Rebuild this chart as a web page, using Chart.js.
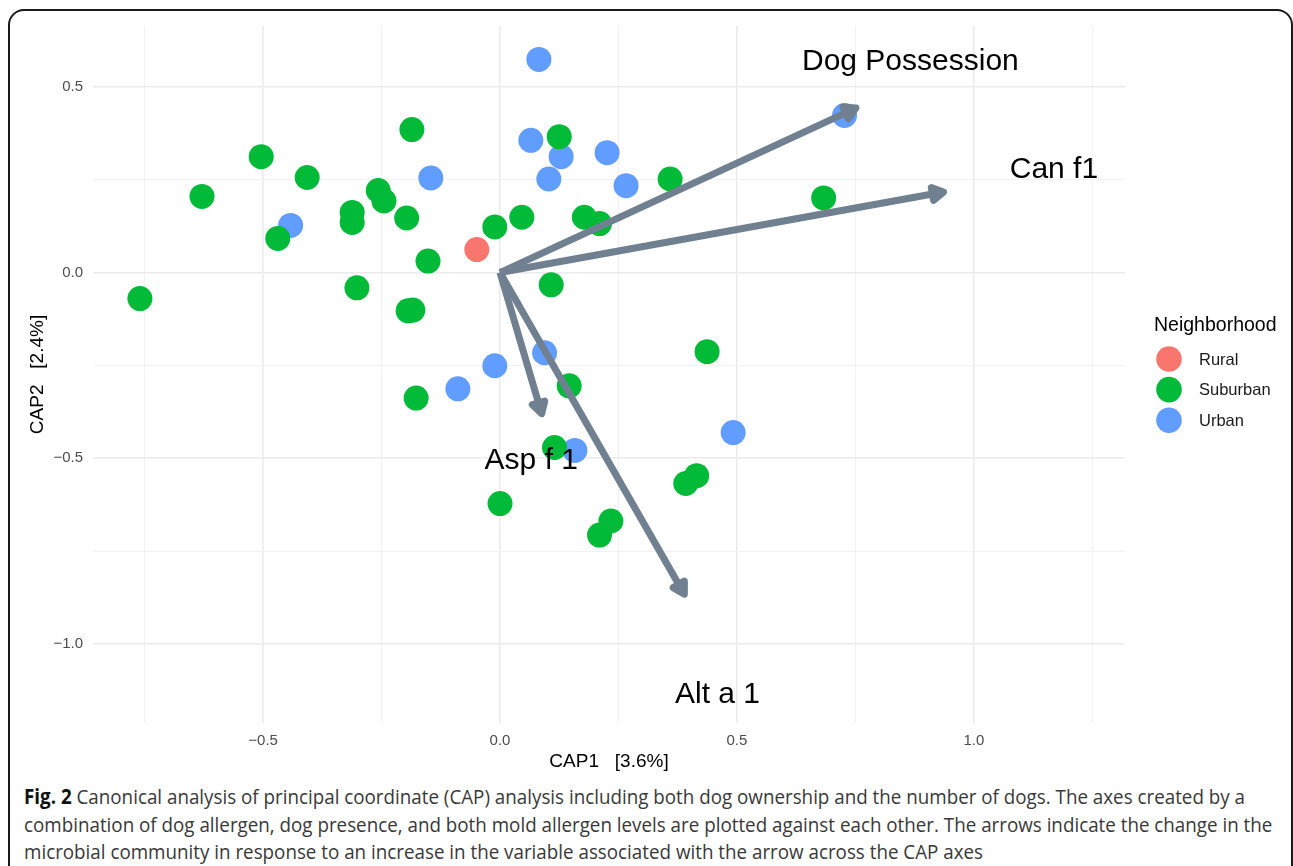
<!DOCTYPE html>
<html>
<head>
<meta charset="utf-8">
<title>CAP ordination</title>
<script src="https://cdn.jsdelivr.net/npm/chart.js@4.4.1/dist/chart.umd.min.js"></script>
<style>
    html, body { margin: 0; padding: 0; background: #fff; }
    body { width: 1293px; height: 866px; overflow: hidden; position: relative; }
    #frame {
        position: absolute; left: 8px; top: 9px; width: 1285px; height: 900px;
        border: 2px solid #1a1a1a; border-radius: 16px; box-sizing: border-box;
    }
    #chart { position: absolute; left: 0; top: 0; }
    .caption {
        position: absolute; left: 24px; height: 28px; line-height: 28px;
        font-family: "Open Sans", "Noto Sans", sans-serif; font-size: 20.5px;
        color: #383838; white-space: nowrap; transform-origin: 0 50%;
    }
    .caption b { color: #111; }
</style>
</head>
<body>
<div id="frame"></div>
<canvas id="chart" width="1293" height="780"></canvas>
<div class="caption" style="top:782px"><b>Fig. 2</b> Canonical analysis of principal coordinate (CAP) analysis including both dog ownership and the number of dogs. The axes created by a</div>
<div class="caption" style="top:810px">combination of dog allergen, dog presence, and both mold allergen levels are plotted against each other. The arrows indicate the change in the</div>
<div class="caption" style="top:837px">microbial community in response to an increase in the variable associated with the arrow across the CAP axes</div>

<script>
// sample scores
const ruralX = [-0.049];
const ruralY = [0.062];

const suburbanX = [-0.760, -0.629, -0.504, -0.407, -0.469, -0.312, -0.312, -0.257, -0.245, -0.197,
    -0.186, -0.152, -0.302, -0.194, -0.184, -0.177, 0.125, 0.359, -0.011, 0.046,
    0.178, 0.210, 0.108, 0.683, 0.146, 0.437, 0.115, 0.000, 0.234, 0.210,
    0.415, 0.392];
const suburbanY = [-0.070, 0.205, 0.312, 0.256, 0.092, 0.162, 0.135, 0.221, 0.193, 0.147,
    0.385, 0.031, -0.041, -0.103, -0.101, -0.338, 0.366, 0.252, 0.123, 0.149,
    0.149, 0.132, -0.033, 0.201, -0.305, -0.213, -0.471, -0.622, -0.669, -0.707,
    -0.547, -0.568];

const urbanX = [-0.442, -0.146, 0.082, 0.065, 0.129, 0.103, 0.226, 0.266, 0.727, 0.094,
    -0.011, -0.089, 0.158, 0.492];
const urbanY = [0.127, 0.255, 0.574, 0.356, 0.312, 0.252, 0.323, 0.234, 0.423, -0.216,
    -0.251, -0.313, -0.479, -0.431];

// biplot arrows and their labels
const arrowNames = ['Dog Possession', 'Can f1', 'Asp f 1', 'Alt a 1'];
const arrowX = [0.751, 0.936, 0.088, 0.389];
const arrowY = [0.443, 0.217, -0.380, -0.866];
const arrowLabelX = [0.866, 1.169, 0.066, 0.459];
const arrowLabelY = [0.568, 0.276, -0.507, -1.137];

const xTicks = [-0.75, -0.5, -0.25, 0, 0.25, 0.5, 0.75, 1.0, 1.25];
const xMajor = [-0.5, 0, 0.5, 1.0];
const yTicks = [-1.0, -0.75, -0.5, -0.25, 0, 0.25, 0.5];
const yMajor = [-1.0, -0.5, 0, 0.5];

const groupNames = ['Rural', 'Suburban', 'Urban'];
const groupColors = ['#F8766D', '#00BA38', '#619CFF'];
const arrowColor = '#708090';
const plotFont = '"Liberation Sans", Arial, sans-serif';

const toPoints = (xs, ys) => xs.map((x, i) => ({x: x, y: ys[i]}));
const fmt = v => (v < 0 ? '\u2212' : '') + Math.abs(v).toFixed(1);

const arrowsPlugin = {
    id: 'arrows',
    afterDatasetsDraw(chart) {
        const ctx = chart.ctx;
        const xs = chart.scales.x;
        const ys = chart.scales.y;
        const x0 = xs.getPixelForValue(0);
        const y0 = ys.getPixelForValue(0);
        ctx.save();
        for (let i = 0; i < arrowNames.length; i++) {
            const tx = xs.getPixelForValue(arrowX[i]);
            const ty = ys.getPixelForValue(arrowY[i]);
            const ang = Math.atan2(ty - y0, tx - x0);
            const len = 13, spread = Math.PI / 6;
            ctx.beginPath();
            ctx.moveTo(tx, ty);
            ctx.lineTo(tx - len * Math.cos(ang - spread), ty - len * Math.sin(ang - spread));
            ctx.lineTo(tx - len * Math.cos(ang + spread), ty - len * Math.sin(ang + spread));
            ctx.closePath();
            ctx.fillStyle = arrowColor;
            ctx.strokeStyle = arrowColor;
            ctx.lineWidth = 7;
            ctx.lineJoin = 'round';
            ctx.fill();
            ctx.stroke();
        }
        ctx.fillStyle = '#000';
        ctx.font = '30px ' + plotFont;
        ctx.textAlign = 'center';
        ctx.textBaseline = 'middle';
        for (let i = 0; i < arrowNames.length; i++) {
            ctx.fillText(arrowNames[i], xs.getPixelForValue(arrowLabelX[i]), ys.getPixelForValue(arrowLabelY[i]));
        }
        ctx.restore();
    }
};

const legendPlugin = {
    id: 'sideLegend',
    afterDraw(chart) {
        const ctx = chart.ctx;
        const left = chart.chartArea.right + 29;
        ctx.save();
        ctx.textAlign = 'left';
        ctx.textBaseline = 'middle';
        ctx.fillStyle = '#000';
        ctx.font = '19.5px ' + plotFont;
        ctx.fillText('Neighborhood', left, 326);
        ctx.font = '16.5px ' + plotFont;
        groupNames.forEach((name, i) => {
            const y = 359 + i * 30.6;
            ctx.beginPath();
            ctx.arc(left + 15, y, 12.8, 0, Math.PI * 2);
            ctx.fillStyle = groupColors[i];
            ctx.fill();
            ctx.fillStyle = '#1a1a1a';
            ctx.fillText(name, left + 45, y + 1);
        });
        ctx.restore();
    }
};

const arrowDatasets = arrowNames.map((name, i) => ({
    label: name,
    data: [{x: 0, y: 0}, {x: arrowX[i], y: arrowY[i]}],
    showLine: true,
    borderColor: arrowColor,
    borderWidth: 7,
    borderCapStyle: 'butt',
    pointRadius: 0,
    order: 0
}));

const pointStyle = (i, order) => ({
    label: groupNames[i],
    backgroundColor: groupColors[i],
    borderWidth: 0,
    pointRadius: 12.5,
    pointHoverRadius: 12.5,
    order: order
});

new Chart(document.getElementById('chart'), {
    type: 'scatter',
    data: {
        datasets: [
            ...arrowDatasets,
            Object.assign({data: toPoints(ruralX, ruralY)}, pointStyle(0, 3)),
            Object.assign({data: toPoints(suburbanX, suburbanY)}, pointStyle(1, 1)),
            Object.assign({data: toPoints(urbanX, urbanY)}, pointStyle(2, 2))
        ]
    },
    options: {
        responsive: false,
        animation: false,
        events: [],
        layout: {padding: {top: 26, left: 0, right: 168, bottom: 5}},
        plugins: {
            legend: {display: false},
            tooltip: {enabled: false}
        },
        scales: {
            x: {
                type: 'linear',
                min: -0.859,
                max: 1.319,
                afterBuildTicks: s => { s.ticks = xTicks.map(v => ({value: v})); },
                afterFit: s => { s.height = 52; },
                border: {display: false},
                grid: {
                    drawTicks: false,
                    color: c => (c.tick && xMajor.includes(c.tick.value)) ? '#ebebeb' : '#f2f2f2',
                    lineWidth: c => (c.tick && xMajor.includes(c.tick.value)) ? 1.6 : 1
                },
                ticks: {
                    autoSkip: false,
                    maxRotation: 0,
                    padding: 9,
                    color: '#4d4d4d',
                    font: {family: plotFont, size: 15},
                    callback: v => xMajor.includes(v) ? fmt(v) : ''
                },
                title: {
                    display: true,
                    text: 'CAP1   [3.6%]',
                    color: '#000',
                    font: {family: plotFont, size: 19},
                    padding: {top: 0, bottom: 2}
                }
            },
            y: {
                type: 'linear',
                min: -1.213,
                max: 0.664,
                afterBuildTicks: s => { s.ticks = yTicks.map(v => ({value: v})); },
                afterFit: s => { s.width = 93; },
                border: {display: false},
                grid: {
                    drawTicks: false,
                    color: c => (c.tick && yMajor.includes(c.tick.value)) ? '#ebebeb' : '#f2f2f2',
                    lineWidth: c => (c.tick && yMajor.includes(c.tick.value)) ? 1.6 : 1
                },
                ticks: {
                    autoSkip: false,
                    padding: 10,
                    color: '#4d4d4d',
                    font: {family: plotFont, size: 15},
                    callback: v => yMajor.includes(v) ? fmt(v) : ''
                },
                title: {
                    display: true,
                    text: 'CAP2   [2.4%]',
                    color: '#000',
                    font: {family: plotFont, size: 19},
                    padding: {top: 26, bottom: 0}
                }
            }
        }
    },
    plugins: [arrowsPlugin, legendPlugin]
});

// squeeze the caption to the width of the printed figure caption
document.fonts.ready.then(() => {
    const lines = document.querySelectorAll('.caption');
    const w = lines[0].getBoundingClientRect().width;
    const s = 1221 / w;
    lines.forEach(l => { l.style.transform = 'scaleX(' + s + ')'; });
});
</script>
</body>
</html>
